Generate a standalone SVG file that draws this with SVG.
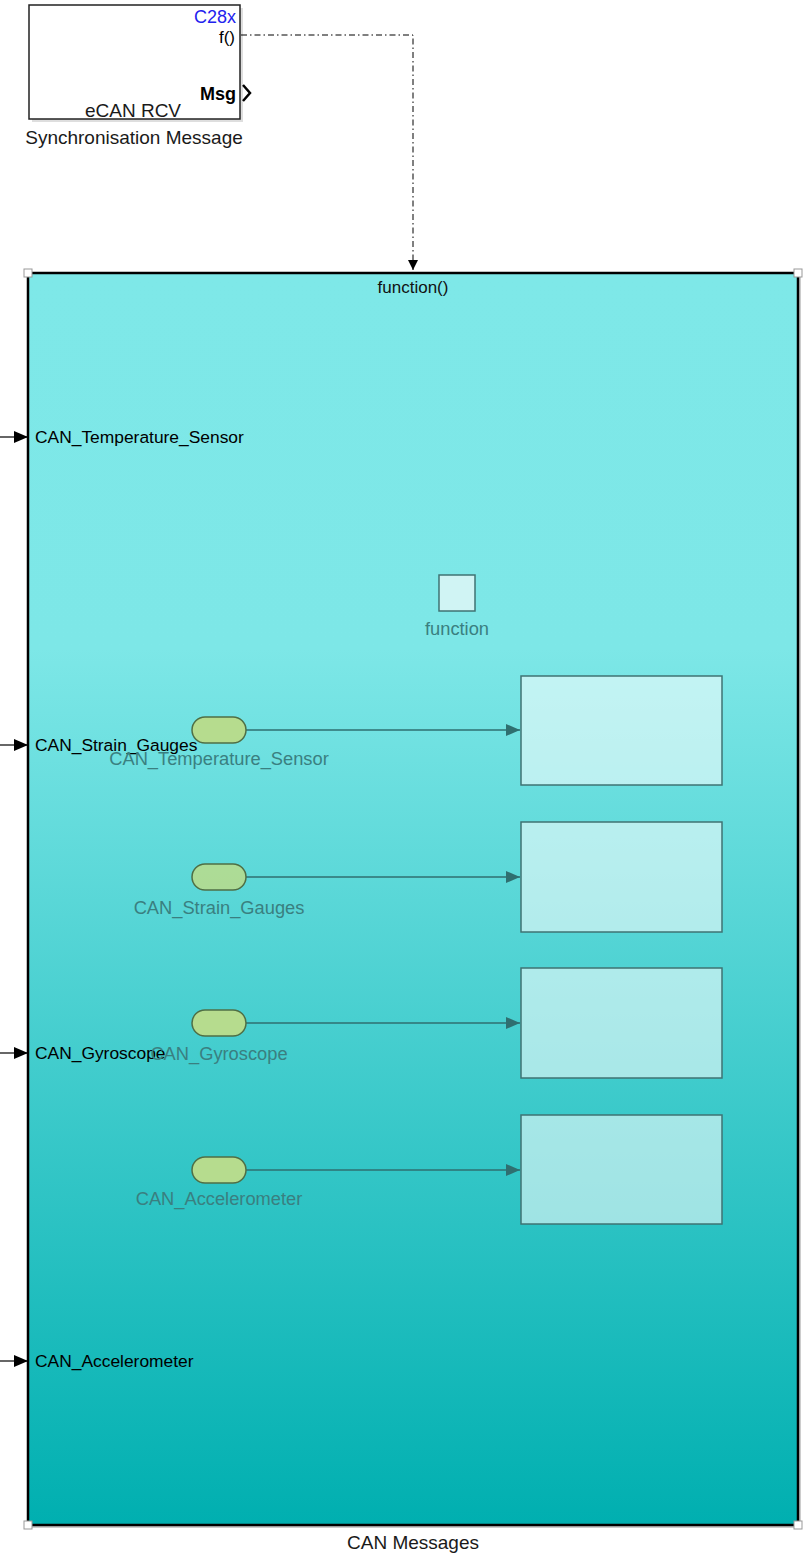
<svg xmlns="http://www.w3.org/2000/svg" width="807" height="1555" viewBox="0 0 807 1555">
<defs>
<linearGradient id="bg" x1="0" y1="0" x2="0" y2="1">
<stop offset="0" stop-color="#7ee8e8"/>
<stop offset="0.3" stop-color="#7de7e7"/>
<stop offset="1" stop-color="#00afb0"/>
</linearGradient>
<marker id="ah" markerWidth="10" markerHeight="10" refX="10" refY="5" orient="auto" markerUnits="userSpaceOnUse"><path d="M0,0 L10,5 L0,10 Z" fill="#000"/></marker>
<marker id="ahf" markerWidth="14" markerHeight="12" refX="14" refY="6" orient="auto" markerUnits="userSpaceOnUse"><path d="M0,0 L14,6 L0,12 Z" fill="#2f6f70"/></marker>
<marker id="ahp" markerWidth="14" markerHeight="12" refX="14" refY="6" orient="auto" markerUnits="userSpaceOnUse"><path d="M0,0 L14,6 L0,12 Z" fill="#000"/></marker>
</defs>
<style>
text{font-family:"Liberation Sans",Arial,sans-serif}
.lbl{font-size:19px;fill:#1a1a1a}
.port{font-size:17.4px;fill:#000}
.faded{font-size:18.3px;fill:#3a7f80}
.tag{fill:#b6dc8e;stroke:#4f6f45;stroke-width:1.5}
.blk{fill:#ffffff;fill-opacity:0.55;stroke:#3f7373;stroke-width:1.5}
.handle{fill:#fff;stroke:#999;stroke-width:1}
</style>
<g id="sync">
<rect x="32" y="8" width="211" height="114" fill="#c8c8c8" opacity="0.6"/>
<rect x="29" y="5" width="211" height="114" fill="#fff" stroke="#222" stroke-width="1.5"/>
<text x="236" y="23" text-anchor="end" font-size="18" fill="#2222ee">C28x</text>
<text x="235" y="43" text-anchor="end" font-size="17" fill="#000">f()</text>
<text x="236" y="100" text-anchor="end" font-size="18" font-weight="bold" fill="#000">Msg</text>
<path d="M243,85 L250,93 L243,101" fill="none" stroke="#000" stroke-width="2.5"/>
<text x="133" y="117" text-anchor="middle" class="lbl">eCAN RCV</text>
<text x="134" y="144" text-anchor="middle" class="lbl">Synchronisation Message</text>
</g>
<g id="connectors">
<path d="M241,35 H413 V270" fill="none" stroke="#000" stroke-width="1" stroke-dasharray="6,3,1.5,3" marker-end="url(#ah)"/>
<line x1="0" y1="437" x2="28" y2="437" stroke="#000" stroke-width="1.2" marker-end="url(#ahp)"/>
<line x1="0" y1="745" x2="28" y2="745" stroke="#000" stroke-width="1.2" marker-end="url(#ahp)"/>
<line x1="0" y1="1053" x2="28" y2="1053" stroke="#000" stroke-width="1.2" marker-end="url(#ahp)"/>
<line x1="0" y1="1361" x2="28" y2="1361" stroke="#000" stroke-width="1.2" marker-end="url(#ahp)"/>
</g>
<g id="can-messages">
<rect x="31" y="276" width="770" height="1252" fill="#999" opacity="0.5"/>
<rect x="28" y="273" width="770" height="1252" fill="url(#bg)" stroke="#000" stroke-width="2.5"/>
<rect x="24" y="269" width="8" height="8" class="handle"/>
<rect x="794" y="269" width="8" height="8" class="handle"/>
<rect x="24" y="1521" width="8" height="8" class="handle"/>
<rect x="794" y="1521" width="8" height="8" class="handle"/>
<text x="413" y="293" text-anchor="middle" font-size="17" fill="#111">function()</text>
<text x="35" y="443" class="port">CAN_Temperature_Sensor</text>
<text x="35" y="751" class="port">CAN_Strain_Gauges</text>
<text x="35" y="1059" class="port">CAN_Gyroscope</text>
<text x="35" y="1367" class="port">CAN_Accelerometer</text>
<text x="413" y="1549" text-anchor="middle" class="lbl">CAN Messages</text>
</g>
<g id="inner-function">
<rect x="439" y="575" width="36" height="36" fill="#d0f4f4" stroke="#3f7373" stroke-width="1.5"/>
<text x="457" y="635" text-anchor="middle" class="faded">function</text>
</g>
<g id="inner-connectors">
<line x1="246" y1="730" x2="520" y2="730" stroke="#2f6f70" stroke-width="1.3" marker-end="url(#ahf)"/>
<line x1="246" y1="877" x2="520" y2="877" stroke="#2f6f70" stroke-width="1.3" marker-end="url(#ahf)"/>
<line x1="246" y1="1023" x2="520" y2="1023" stroke="#2f6f70" stroke-width="1.3" marker-end="url(#ahf)"/>
<line x1="246" y1="1170" x2="520" y2="1170" stroke="#2f6f70" stroke-width="1.3" marker-end="url(#ahf)"/>
</g>
<g id="from-temp">
<rect x="192" y="717" width="54" height="26" rx="13" class="tag"/>
<text x="219" y="765" text-anchor="middle" class="faded">CAN_Temperature_Sensor</text>
</g>
<g id="from-strain">
<rect x="192" y="864" width="54" height="26" rx="13" class="tag" fill-opacity="0.9"/>
<text x="219" y="914" text-anchor="middle" class="faded">CAN_Strain_Gauges</text>
</g>
<g id="from-gyro">
<rect x="192" y="1010" width="54" height="26" rx="13" class="tag"/>
<text x="219" y="1060" text-anchor="middle" class="faded">CAN_Gyroscope</text>
</g>
<g id="from-accel">
<rect x="192" y="1157" width="54" height="26" rx="13" class="tag"/>
<text x="219" y="1205" text-anchor="middle" class="faded">CAN_Accelerometer</text>
</g>
<g id="block-1"><rect x="521" y="676" width="201" height="109" class="blk"/></g>
<g id="block-2"><rect x="521" y="822" width="201" height="110" class="blk"/></g>
<g id="block-3"><rect x="521" y="968" width="201" height="110" class="blk"/></g>
<g id="block-4"><rect x="521" y="1115" width="201" height="109" class="blk"/></g>
</svg>
